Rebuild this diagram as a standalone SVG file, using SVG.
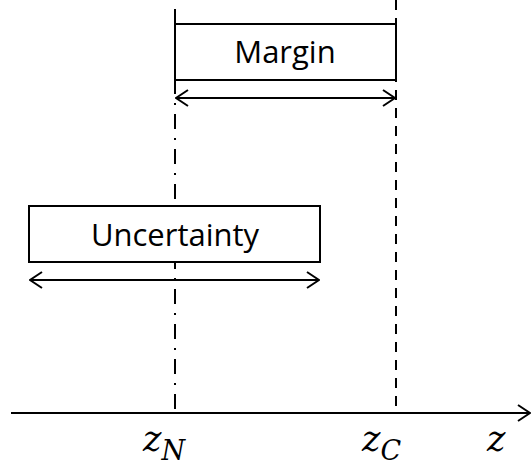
<svg xmlns="http://www.w3.org/2000/svg" width="531" height="475" viewBox="0 0 531 475">
<style>
.box{fill:#fff;stroke:#000;stroke-width:2}
.ln{stroke:#000;stroke-width:2;fill:none}
.lbl{font-family:"Open Sans","Noto Sans",sans-serif;font-size:31px;fill:#000;text-anchor:middle}
.math{font-family:"DejaVu Serif","Liberation Serif",serif;font-style:italic;font-size:35px;fill:#000}
</style>
<defs>
<marker id="ah" viewBox="0 0 14 18" refX="13" refY="9" markerWidth="14" markerHeight="18" markerUnits="userSpaceOnUse" orient="auto-start-reverse">
<path d="M1,1 L13,9 L1,17" fill="none" stroke="#000" stroke-width="2"/>
</marker>
</defs>
<g id="connectors">
<line class="ln" x1="175" y1="0" x2="175" y2="413" stroke-dasharray="15 9 2 9" stroke-dashoffset="-9"/>
<line class="ln" x1="396" y1="0" x2="396" y2="413" stroke-dasharray="10 8"/>
<line class="ln" x1="11" y1="413" x2="530" y2="413" marker-end="url(#ah)"/>
<line class="ln" x1="176" y1="98" x2="395" y2="98" marker-start="url(#ah)" marker-end="url(#ah)"/>
<line class="ln" x1="30" y1="280" x2="319" y2="280" marker-start="url(#ah)" marker-end="url(#ah)"/>
</g>
<g id="margin">
<rect class="box" x="175" y="24" width="221" height="56"/>
<text class="lbl" x="285" y="63">Margin</text>
</g>
<g id="uncertainty">
<rect class="box" x="29" y="206" width="291" height="56"/>
<text class="lbl" x="175" y="246">Uncertainty</text>
</g>
<g id="labels">
<text class="math" x="143" y="451">z<tspan font-size="27" dy="9">N</tspan></text>
<text class="math" x="362" y="451">z<tspan font-size="27" dy="9">C</tspan></text>
<text class="math" x="487" y="451">z</text>
</g>
</svg>
